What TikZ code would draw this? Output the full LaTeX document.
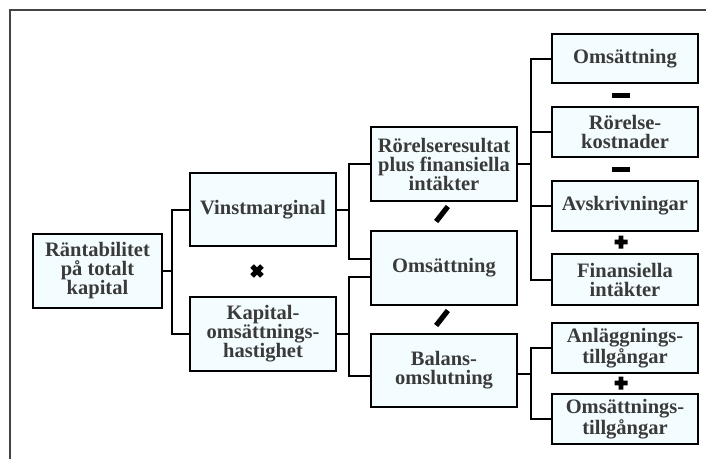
\documentclass[tikz,border=0pt]{standalone}
\usepackage{fontspec}
\setmainfont{Liberation Serif}
\definecolor{boxfill}{HTML}{F3FCFE}
\definecolor{boxtext}{HTML}{3A3A3A}
\definecolor{framegray}{HTML}{444444}
\begin{document}
\begin{tikzpicture}[x=1pt,y=-1pt,
  box/.style={draw=black,line width=2.3pt,fill=boxfill,text=boxtext,
    font=\fontsize{20.5}{19}\selectfont\bfseries,align=center,inner sep=0pt,
    minimum width=146pt},
  link/.style={draw=black,line width=2pt},
  signfill/.style={fill=black,draw=none}]
\useasboundingbox (0,0) rectangle (706,459);
\draw[framegray,line width=1.2pt] (10,459) -- (10,10) -- (706,10);

% first level
\node[box,minimum width=129pt,minimum height=74pt] (rtk) at (97.5,271) {Räntabilitet\\på totalt\\kapital};
% second level
\node[box,minimum height=73pt] (vm) at (263,209.5) {Vinstmarginal};
\node[box,minimum height=74pt] (kh) at (263,334) {Kapital-\\omsättnings-\\hastighet};
% third level
\node[box,minimum height=74pt] (rr) at (444,164) {Rörelseresultat\\plus finansiella\\intäkter};
\node[box,minimum height=74pt] (om) at (444,268) {Omsättning};
\node[box,minimum height=73pt] (bo) at (444,370.5) {Balans-\\omslutning};
% fourth level
\node[box,minimum height=49pt] (o1) at (625,58.5) {Omsättning};
\node[box,minimum height=50pt] (rk) at (625,132) {Rörelse-\\kostnader};
\node[box,minimum height=50pt] (av) at (625,206) {Avskrivningar};
\node[box,minimum height=51pt] (fi) at (625,279.5) {Finansiella\\intäkter};
\node[box,minimum height=50pt] (at) at (625,348) {Anläggnings-\\tillgångar};
\node[box,minimum height=50pt] (ot) at (625,419) {Omsättnings-\\tillgångar};

% brackets
\draw[link] (rtk.east) -- ++(9,0) |- (vm.west);
\draw[link] (rtk.east) -- ++(9,0) |- (kh.west);
\draw[link] (vm.east) -- ++(12,0) |- (rr.west);
\draw[link] (vm.east) -- ++(12,0) |- ([yshift=9pt]om.west);
\draw[link] (kh.east) -- ++(12,0) |- ([yshift=-9pt]om.west);
\draw[link] (kh.east) -- ++(12,0) |- ([yshift=-5pt]bo.west);
\foreach \t in {o1,rk,av,fi}
  \draw[link] (rr.east) -- ++(13,0) |- (\t.west);
\draw[link] ([yshift=-3pt]bo.east) -- ++(13,0) |- (at.west);
\draw[link] ([yshift=-3pt]bo.east) -- ++(13,0) |- (ot.west);

% operators
\foreach \p in {(257,271)}
  \fill[signfill,rotate around={45:\p}] \p ++(-7,-2.5) rectangle ++(14,5)
    \p ++(-2.5,-7) rectangle ++(5,14);
\fill[signfill] (612,92.5) rectangle (630,97.5);
\fill[signfill] (612,166.5) rectangle (630,171.5);
\foreach \p in {(621,242),(621,383)}
  \fill[signfill] \p ++(-6.5,-2.4) rectangle ++(13,4.8)
    \p ++(-2.4,-6.5) rectangle ++(4.8,13);
\foreach \p in {(442,214),(442,318)}
  \fill[signfill,rotate around={52:\p}] \p ++(-9.5,-2.6) rectangle ++(19,5.2);
\end{tikzpicture}
\end{document}
